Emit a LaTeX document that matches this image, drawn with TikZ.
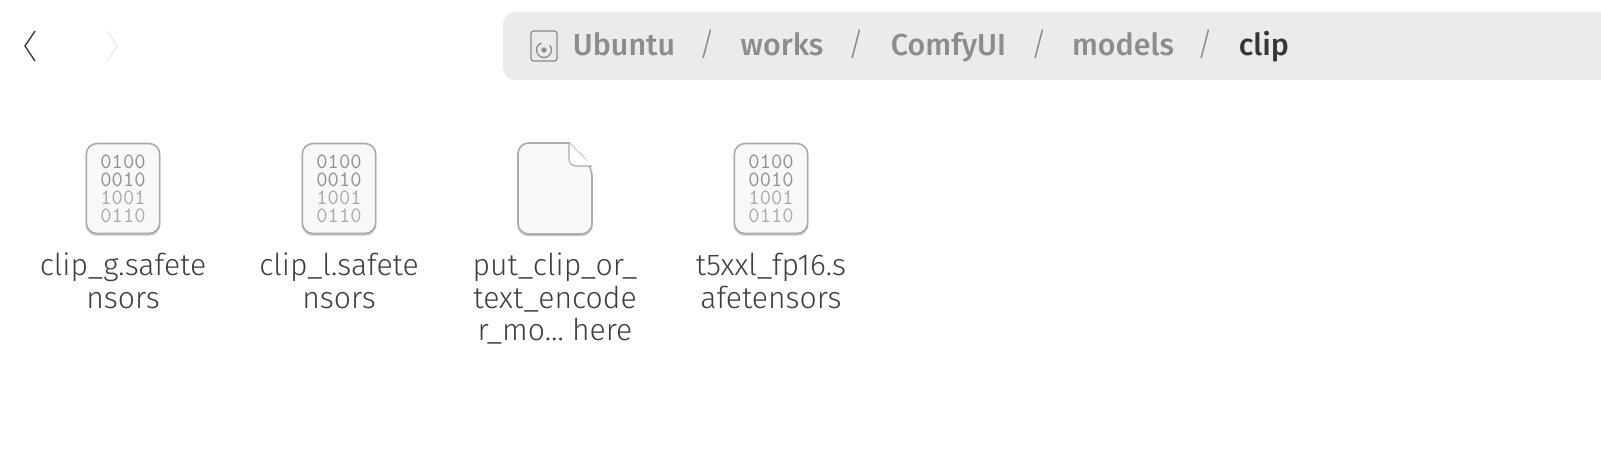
\documentclass[tikz,border=0pt]{standalone}
\usepackage{fontspec}
\setmainfont{Fira Sans Light}[BoldFont=Fira Sans Medium]
\newfontfamily\digitfont{Latin Modern Mono}
\usetikzlibrary{positioning}
\definecolor{barfill}{HTML}{EBEBEB}
\definecolor{crumbgray}{HTML}{8C8C8C}
\definecolor{crumbdark}{HTML}{363636}
\definecolor{iconedge}{HTML}{ABABAB}
\definecolor{iconfill}{HTML}{F8F8F8}
\definecolor{darkbit}{HTML}{8E8E8E}
\definecolor{lightbit}{HTML}{A8A8A8}
\definecolor{labeltext}{HTML}{3D3D3D}
\tikzset{
  crumb/.style={anchor=base, text=crumbgray, font=\fontsize{22.8}{24}\selectfont\bfseries, inner sep=0pt},
  crumbslash/.style={anchor=base, text=crumbgray, font=\fontsize{24}{24}\selectfont, inner sep=0pt},
  iconshadow/.style={preaction={draw=iconedge!70, line width=1.2pt, transform canvas={yshift=-1pt}}},
  binfile/.style={iconshadow, draw=iconedge, line width=1.2pt, fill=iconfill, rounded corners=8pt,
    minimum width=55pt, minimum height=67.5pt, inner sep=0pt, align=center,
    font=\digitfont\fontsize{16.4}{13.5}\selectfont},
  filename/.style={text=labeltext, font=\fontsize{22.6}{24.5}\selectfont, align=center, inner sep=0pt},
}
\begin{document}
\begin{tikzpicture}[x=0.75pt,y=-0.75pt]
  \useasboundingbox (0,0) rectangle (1601,449);

  % navigation
  \draw[color=crumbdark, line width=1pt] (35,31) -- (25,46) -- (35,61);
  \draw[color=barfill, line width=1pt] (107,31) -- (117,46) -- (107,61);

  % path bar
  \fill[barfill, rounded corners=9pt] (1640,12) -- (503,12) -- (503,80) -- (1640,80);
  \clip (0,0) rectangle (1601,449);
  \draw[color=crumbgray, line width=1pt, rounded corners=2pt] (531,31) rectangle (557,61);
  \draw[color=crumbgray, line width=1pt] (549.7,45.2) arc[start angle=-40, end angle=250, radius=7.5];
  \fill[crumbgray] (544,50) circle (2pt);

  \node[crumb] (ubuntu) at (624,56) {Ubuntu};
  \node[crumbslash] (s1) at (707,56) {/};
  \node[crumb] (works) at (782,56) {works};
  \node[crumbslash] (s2) at (856,56) {/};
  \node[crumb] (comfy) at (948.5,56) {ComfyUI};
  \node[crumbslash] (s3) at (1039,56) {/};
  \node[crumb] (models) at (1123,56) {models};
  \node[crumbslash] (s4) at (1205,56) {/};
  \node[crumb, text=crumbdark] (clip) at (1264,56) {clip};

  % files
  \foreach \name/\xpos in {clipg/123,clipl/339,tfive/771} {
    \node[binfile] (\name) at (\xpos,188.5)
      {\color{darkbit}0100\\\color{darkbit}0010\\\color{lightbit}1001\\\color{lightbit}0110};
  }

  \draw[iconshadow, draw=iconedge, line width=1.2pt, fill=iconfill, rounded corners=8pt]
    (518,180) -- (518,234) -- (592,234) -- (592,166) [sharp corners] -- (569,143) [rounded corners=8pt] -- (518,143) -- cycle;
  \draw[draw=iconedge, line width=0.8pt, rounded corners=5pt, fill=white] (569,143) -- (569,166) -- (592,166);
  \coordinate (putfile) at (555,234);

  \node[filename, anchor=north, below=14pt of clipg] (clipgname) {clip\_g.safete\\nsors};
  \node[filename, anchor=north, below=14pt of clipl] (cliplname) {clip\_l.safete\\nsors};
  \node[filename, anchor=north, below=14pt of putfile] (putname) {put\_clip\_or\_\\text\_encode\\r\_mo… here};
  \node[filename, anchor=north, below=14pt of tfive] (tfivename) {t5xxl\_fp16.s\\afetensors};

\end{tikzpicture}
\end{document}
